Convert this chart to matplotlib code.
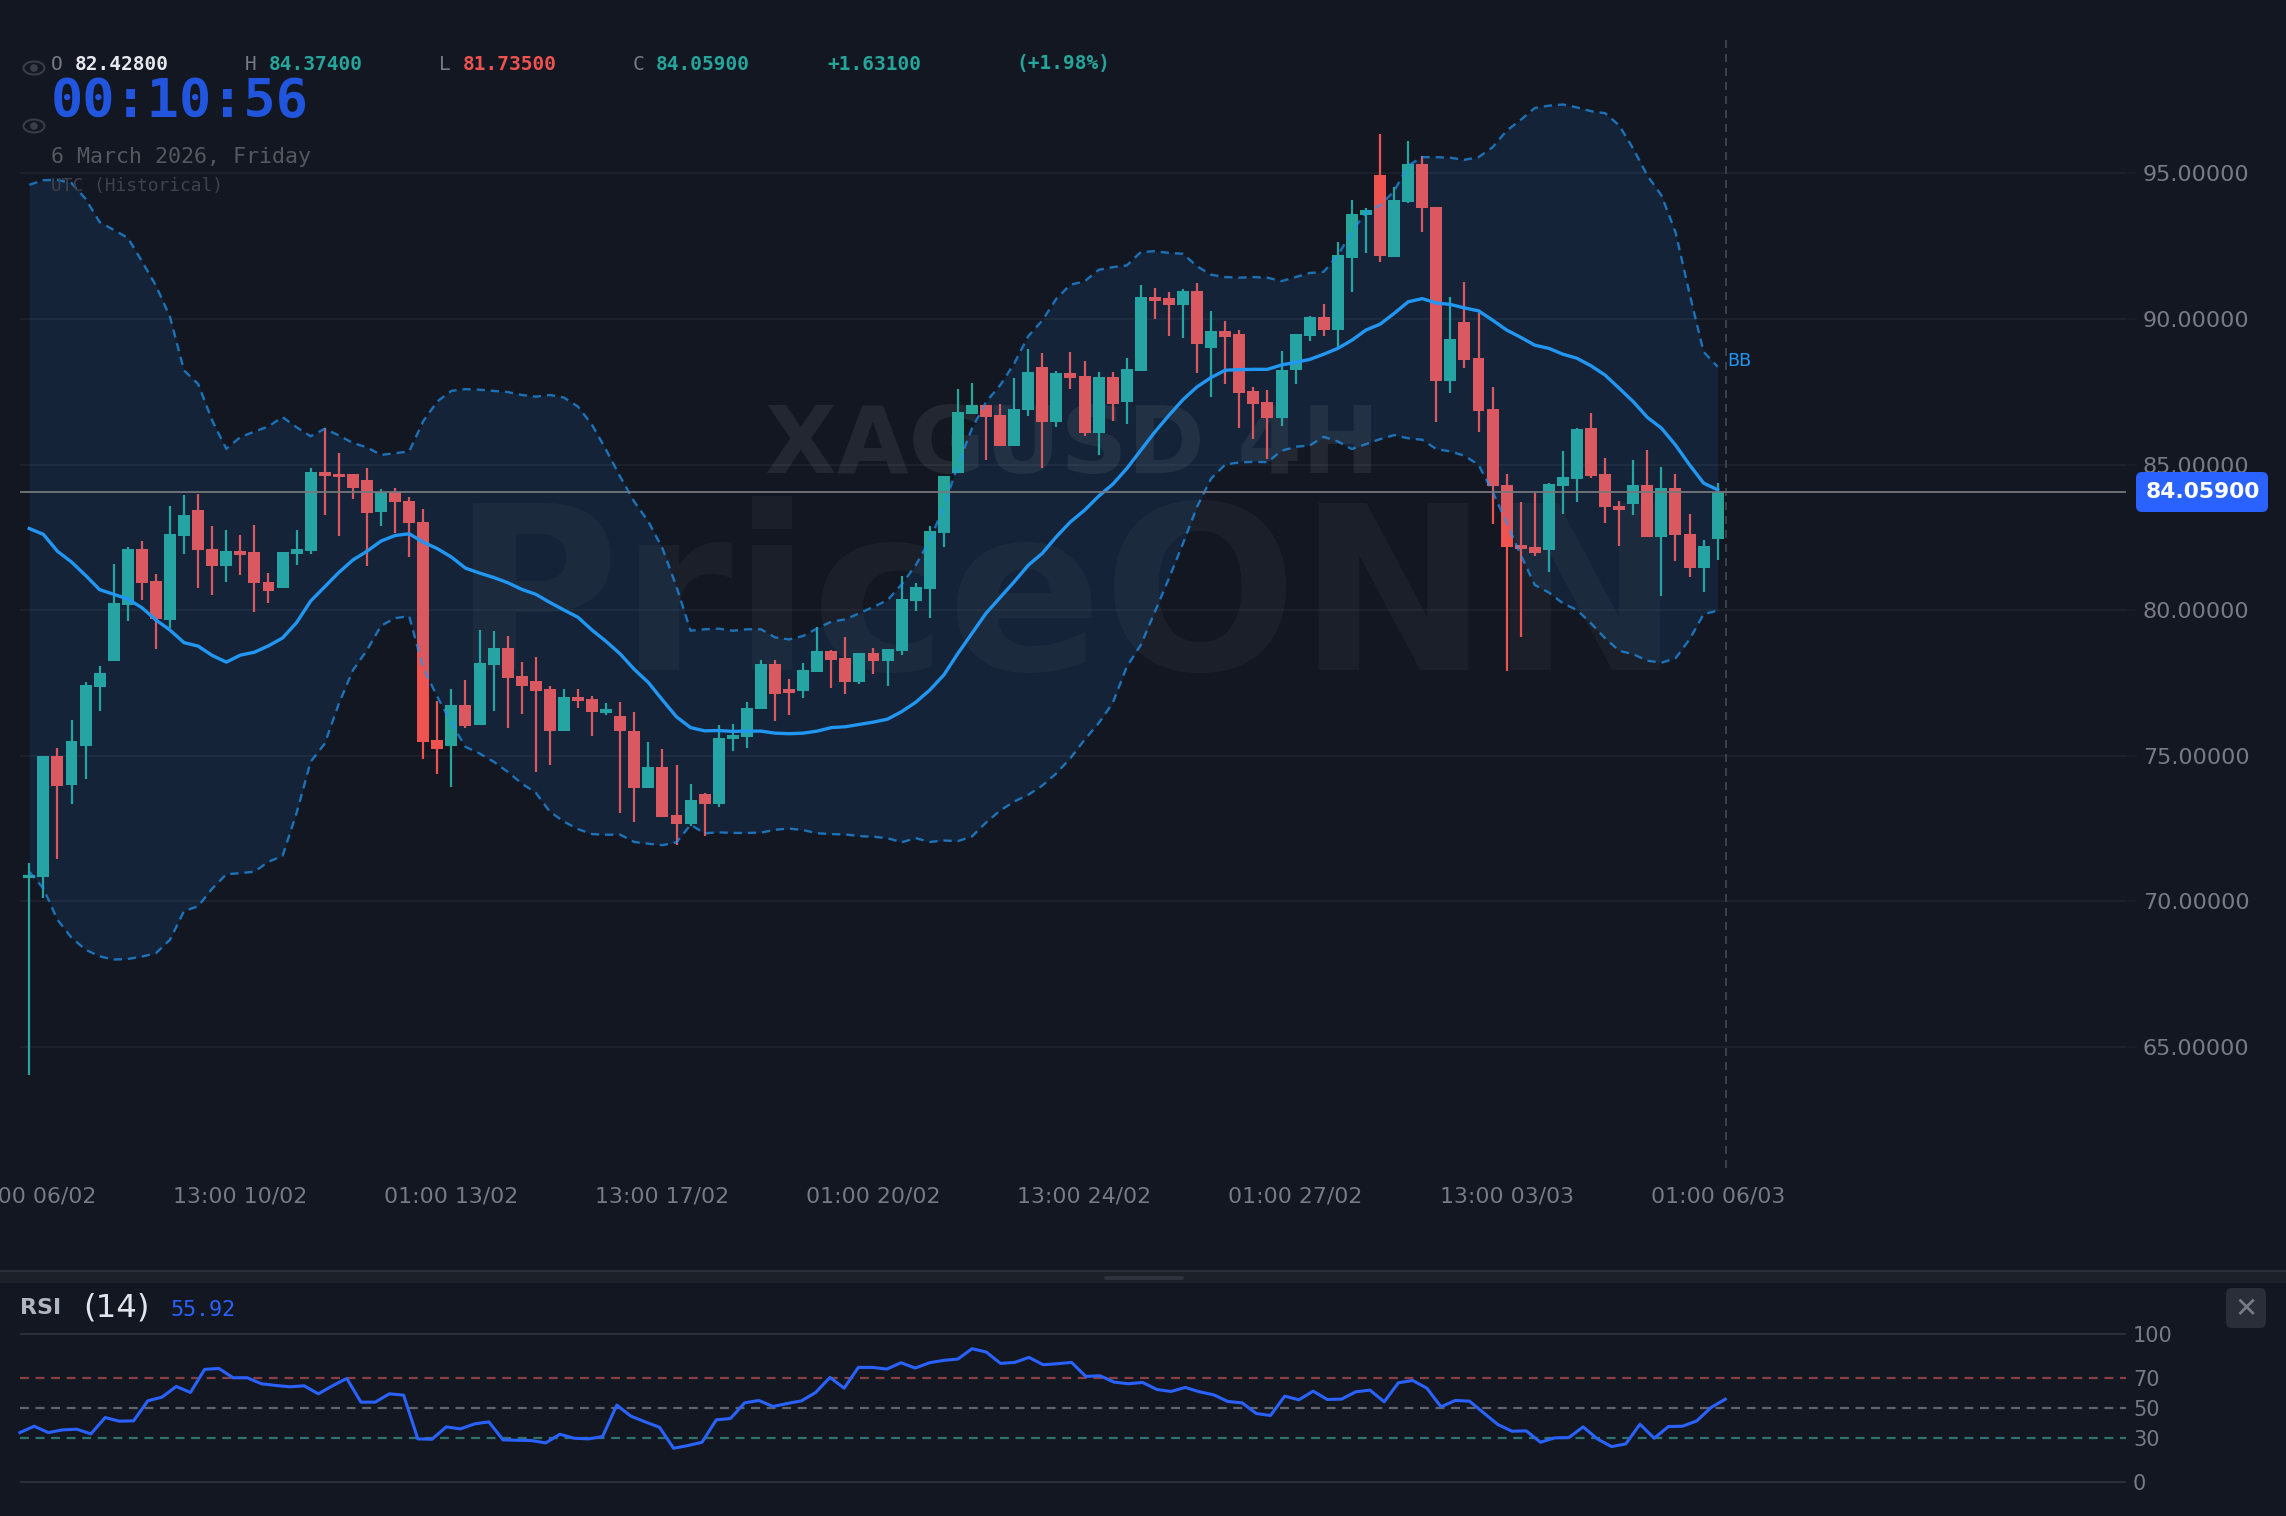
import matplotlib
matplotlib.use("Agg")
import numpy as np
import matplotlib.pyplot as plt
from matplotlib.patches import FancyBboxPatch, Ellipse, Circle, Rectangle

# 4H candles
opens = [70.78, 70.84, 74.98, 73.98, 75.34, 77.37, 78.25, 80.18, 82.10, 81.00,
         79.66, 82.53, 83.45, 82.10, 81.50, 82.02, 81.98, 80.95, 80.75, 81.93,
         82.04, 84.75, 84.69, 84.66, 84.46, 83.37, 84.04, 83.75, 83.02, 75.54,
         75.33, 76.72, 76.05, 78.10, 78.69, 77.72, 77.56, 77.29, 75.83, 77.00,
         76.95, 76.47, 76.36, 75.84, 73.88, 74.62, 72.97, 72.65, 73.67, 73.34,
         75.56, 75.64, 76.59, 78.14, 77.27, 77.22, 77.88, 78.60, 78.36, 77.51,
         78.54, 78.25, 78.60, 80.30, 80.72, 82.64, 84.70, 86.74, 87.03, 86.70,
         85.64, 86.86, 88.36, 86.45, 88.14, 88.05, 86.09, 87.99, 87.15, 88.22,
         90.76, 90.71, 90.47, 90.95, 89.02, 89.59, 89.50, 87.54, 87.14, 86.61,
         88.26, 89.42, 90.06, 89.62, 92.11, 93.56, 94.95, 92.13, 94.02, 95.33,
         93.86, 87.87, 89.89, 88.65, 86.91, 84.30, 82.22, 82.15, 82.05, 84.27,
         84.51, 86.25, 84.68, 83.59, 83.65, 84.30, 82.51, 84.18, 82.61, 81.45,
         82.428]
closes = [70.88, 74.98, 73.95, 75.51, 77.43, 77.83, 80.23, 82.11, 80.93, 79.68,
          82.60, 83.28, 82.07, 81.50, 82.02, 81.90, 80.92, 80.67, 81.99, 82.08,
          84.75, 84.62, 84.56, 84.20, 83.34, 84.04, 83.71, 82.99, 75.48, 75.22,
          76.72, 76.02, 78.19, 78.68, 77.65, 77.39, 77.21, 75.83, 77.00, 76.86,
          76.49, 76.61, 75.84, 73.87, 74.62, 72.90, 72.65, 73.47, 73.32, 75.61,
          75.69, 76.64, 78.14, 77.11, 77.15, 77.94, 78.60, 78.30, 77.51, 78.52,
          78.25, 78.66, 80.37, 80.80, 82.71, 84.59, 86.82, 87.03, 86.64, 85.64,
          86.91, 88.19, 86.45, 88.14, 87.97, 86.08, 87.99, 87.08, 88.27, 90.77,
          90.63, 90.49, 90.95, 89.14, 89.60, 89.37, 87.47, 87.09, 86.61, 88.25,
          89.47, 90.06, 89.61, 92.20, 93.62, 93.75, 92.17, 94.09, 95.33, 93.81,
          87.88, 89.31, 88.59, 86.85, 84.25, 82.18, 82.09, 81.97, 84.34, 84.57,
          86.22, 84.62, 83.54, 83.45, 84.30, 82.51, 84.18, 82.57, 81.46, 82.20,
          84.059]
highs = [71.32, 75.00, 75.27, 76.22, 77.52, 78.07, 81.58, 82.16, 82.37, 81.23,
         83.58, 83.94, 83.98, 82.88, 82.74, 82.57, 82.92, 81.26, 81.99, 82.76,
         84.87, 86.25, 85.41, 84.66, 84.89, 84.17, 84.18, 83.89, 83.48, 76.86,
         77.27, 77.61, 79.31, 79.28, 79.11, 78.21, 78.37, 77.40, 77.30, 77.30,
         77.03, 76.79, 76.85, 76.49, 75.45, 75.21, 74.67, 74.02, 73.72, 76.05,
         76.07, 76.85, 78.29, 78.29, 77.62, 78.18, 79.43, 78.63, 79.08, 78.52,
         78.70, 78.66, 81.17, 80.94, 82.87, 84.61, 87.59, 87.79, 87.05, 87.09,
         87.96, 88.97, 88.83, 88.22, 88.86, 88.55, 88.18, 88.17, 88.67, 91.18,
         91.06, 90.94, 91.04, 91.25, 90.29, 89.93, 89.63, 87.65, 87.57, 88.89,
         89.47, 90.09, 90.51, 92.65, 94.10, 93.82, 96.34, 94.55, 96.10, 95.61,
         93.86, 90.74, 91.26, 90.19, 87.65, 84.68, 83.71, 84.01, 84.36, 85.46,
         86.25, 86.76, 85.22, 83.73, 85.14, 85.50, 84.93, 84.66, 83.30, 82.42,
         84.374]
lows = [64.03, 70.09, 71.44, 73.32, 74.18, 76.52, 78.25, 79.62, 80.35, 78.65,
        79.39, 81.94, 80.77, 80.52, 80.95, 81.19, 79.92, 80.23, 80.75, 81.56,
        81.94, 83.28, 82.54, 83.81, 81.50, 82.89, 82.63, 81.81, 74.89, 74.36,
        73.92, 75.96, 76.05, 76.53, 75.93, 76.44, 74.43, 74.67, 75.83, 76.63,
        75.67, 76.39, 73.02, 72.73, 73.88, 72.90, 71.92, 72.58, 72.25, 73.24,
        75.17, 75.26, 76.59, 76.20, 76.40, 76.99, 77.88, 77.32, 77.12, 77.45,
        77.80, 77.40, 78.47, 79.95, 79.74, 82.16, 84.70, 86.74, 85.14, 85.64,
        85.64, 86.66, 84.87, 86.29, 87.59, 85.98, 85.33, 86.49, 86.40, 88.22,
        89.99, 89.40, 89.34, 88.15, 87.32, 87.78, 86.25, 85.87, 85.18, 86.34,
        87.76, 89.23, 89.40, 89.02, 90.91, 92.26, 91.97, 92.13, 93.98, 92.98,
        86.46, 87.46, 88.33, 86.10, 82.97, 77.90, 79.07, 81.85, 81.31, 83.30,
        83.71, 84.55, 83.00, 82.19, 83.27, 82.51, 80.47, 81.67, 81.13, 80.61,
        81.735]

# Bollinger bands
bb_mid = [82.80, 82.60, 82.02, 81.65, 81.19, 80.70, 80.54, 80.38, 80.08, 79.66,
          79.31, 78.88, 78.76, 78.44, 78.21, 78.45, 78.55, 78.77, 79.04, 79.57,
          80.31, 80.80, 81.29, 81.72, 82.02, 82.37, 82.56, 82.62, 82.33, 82.11,
          81.82, 81.44, 81.27, 81.12, 80.94, 80.71, 80.54, 80.26, 80.00, 79.75,
          79.31, 78.92, 78.49, 77.96, 77.51, 76.91, 76.33, 75.96, 75.85, 75.86,
          75.83, 75.84, 75.84, 75.77, 75.75, 75.77, 75.84, 75.96, 75.99, 76.07,
          76.15, 76.25, 76.51, 76.83, 77.25, 77.77, 78.51, 79.20, 79.89, 80.43,
          80.97, 81.54, 81.95, 82.52, 83.03, 83.43, 83.91, 84.32, 84.86, 85.49,
          86.12, 86.69, 87.23, 87.67, 87.99, 88.24, 88.26, 88.27, 88.27, 88.42,
          88.51, 88.61, 88.79, 88.99, 89.27, 89.62, 89.82, 90.19, 90.59, 90.70,
          90.55, 90.50, 90.38, 90.28, 89.96, 89.62, 89.37, 89.10, 88.99, 88.79,
          88.65, 88.39, 88.07, 87.62, 87.16, 86.62, 86.25, 85.67, 84.99, 84.36,
          84.13]
bb_upper = [94.61, 94.77, 94.78, 94.67, 94.13, 93.33, 93.06, 92.79, 91.99, 91.15,
            90.07, 88.23, 87.77, 86.51, 85.54, 85.94, 86.13, 86.31, 86.63, 86.28,
            85.97, 86.23, 86.00, 85.74, 85.59, 85.33, 85.39, 85.45, 86.49, 87.17,
            87.53, 87.59, 87.57, 87.53, 87.49, 87.39, 87.33, 87.39, 87.30, 86.99,
            86.36, 85.50, 84.58, 83.72, 83.04, 82.12, 80.80, 79.29, 79.34, 79.36,
            79.29, 79.34, 79.34, 79.06, 78.99, 79.11, 79.37, 79.60, 79.68, 79.89,
            80.11, 80.34, 80.88, 81.54, 82.40, 83.55, 84.98, 86.24, 87.15, 87.72,
            88.47, 89.41, 89.95, 90.70, 91.18, 91.29, 91.69, 91.78, 91.84, 92.30,
            92.33, 92.27, 92.24, 91.81, 91.52, 91.44, 91.42, 91.44, 91.42, 91.30,
            91.44, 91.58, 91.62, 92.19, 92.99, 93.67, 93.90, 94.39, 95.27, 95.56,
            95.56, 95.54, 95.47, 95.56, 95.90, 96.47, 96.84, 97.25, 97.33, 97.37,
            97.27, 97.14, 97.07, 96.65, 95.85, 94.93, 94.25, 92.99, 90.87, 88.87,
            88.36]
bb_lower = [71.01, 70.43, 69.36, 68.74, 68.33, 68.10, 67.99, 68.01, 68.09, 68.21,
            68.67, 69.66, 69.82, 70.43, 70.92, 70.96, 71.01, 71.35, 71.55, 73.03,
            74.79, 75.41, 76.78, 77.93, 78.62, 79.46, 79.72, 79.79, 78.00, 77.02,
            76.11, 75.30, 75.07, 74.79, 74.44, 74.04, 73.72, 73.07, 72.73, 72.47,
            72.30, 72.28, 72.28, 72.03, 71.97, 71.92, 72.02, 72.62, 72.33, 72.36,
            72.34, 72.34, 72.35, 72.45, 72.49, 72.44, 72.33, 72.30, 72.29, 72.23,
            72.21, 72.16, 72.02, 72.16, 72.03, 72.08, 72.06, 72.22, 72.70, 73.11,
            73.42, 73.65, 73.97, 74.39, 74.91, 75.54, 76.11, 76.80, 78.05, 78.80,
            79.94, 81.09, 82.29, 83.55, 84.52, 85.00, 85.07, 85.09, 85.08, 85.47,
            85.61, 85.65, 85.95, 85.79, 85.53, 85.70, 85.87, 86.01, 85.90, 85.85,
            85.53, 85.45, 85.30, 84.99, 84.07, 82.99, 81.90, 80.86, 80.60, 80.23,
            80.00, 79.54, 79.03, 78.60, 78.48, 78.26, 78.19, 78.34, 78.99, 79.86,
            79.98]

# RSI(14)
rsi = [33.41, 37.70, 33.41, 35.21, 35.67, 32.51, 43.57, 41.08, 41.31, 54.85,
       57.34, 64.56, 60.50, 76.07, 76.75, 70.43, 70.43, 66.37, 65.24, 64.33,
       65.01, 59.59, 65.01, 69.98, 53.95, 53.95, 59.59, 58.69, 29.12, 28.89,
       37.25, 35.89, 39.28, 40.63, 28.44, 28.22, 27.99, 26.41, 32.28, 29.57,
       29.12, 30.70, 51.92, 44.47, 40.63, 37.02, 22.80, 24.60, 26.86, 41.99,
       42.89, 53.50, 55.08, 51.02, 53.05, 54.85, 60.50, 70.65, 63.43, 77.43,
       77.43, 76.30, 80.59, 76.98, 80.59, 82.17, 83.07, 90.07, 87.81, 80.14,
       80.81, 84.20, 79.23, 79.91, 80.81, 71.33, 71.78, 67.49, 66.37, 67.27,
       62.53, 61.17, 63.88, 60.95, 58.92, 54.40, 53.50, 46.28, 44.92, 58.01,
       55.53, 61.40, 55.76, 55.98, 60.95, 62.08, 54.18, 67.04, 68.62, 63.43,
       50.79, 55.08, 54.63, 46.73, 38.83, 34.31, 34.54, 26.86, 29.80, 30.02,
       37.25, 29.12, 23.93, 25.73, 39.05, 29.57, 37.47, 37.70, 41.31, 50.34,
       55.92]

price_ticks = [65, 70, 75, 80, 85, 90, 95]
rsi_ticks = [0, 30, 50, 70, 100]
time_pos = [0, 15, 30, 45, 60, 75, 90, 105, 120]
time_labels = ["01:00 06/02", "13:00 10/02", "01:00 13/02", "13:00 17/02", "01:00 20/02",
               "13:00 24/02", "01:00 27/02", "13:00 03/03", "01:00 06/03"]
last_price = 84.059

BG = "#131722"
GRID = "#1e222c"
MUTED = "#787b86"
UP = "#26a69a"
DOWN = "#ef5350"
BB = "#2196f3"
MONO = "DejaVu Sans Mono"

W, H = 2286, 1516
fig = plt.figure(figsize=(W / 100, H / 100), dpi=100, facecolor=BG)

# Price pane
ax = fig.add_axes([0, (H - 1170) / H, 2126 / W, 1170 / H], facecolor=BG)
ax.set_xlim(-2.082, 149.02)
ax.set_ylim(60.76, 100.96)
for s in ax.spines.values():
    s.set_visible(False)

# Overlay axes in pixel units for the header, badge and panel furniture
ui = fig.add_axes([0, 0, 1, 1], zorder=5)
ui.set_xlim(0, W)
ui.set_ylim(H, 0)
ui.axis("off")

idx = np.arange(len(closes))
o, c = np.array(opens), np.array(closes)
colors = [UP if up else DOWN for up in c >= o]

ax.hlines(price_ticks, -0.66, 149.02, color=GRID, lw=1.4, zorder=0.5)

ax.text(452, 670, "PriceONN", transform=ui.transData, fontsize=165, fontweight="bold",
        color="white", alpha=0.035, va="baseline", zorder=1, clip_on=False)
ax.text(765, 473, "XAGUSD 4H", transform=ui.transData, fontsize=67, fontweight="bold",
        color="white", alpha=0.07, va="baseline", zorder=1, clip_on=False)

ax.vlines(idx, lows, highs, color=colors, lw=1.6, zorder=2)
ax.bar(idx, c - o, bottom=o, width=0.85, color=colors, linewidth=0, zorder=2.1)

# The band tint sits over the candles
ax.fill_between(idx, bb_lower, bb_upper, color=BB, alpha=0.1, linewidth=0, zorder=3)
ax.plot(idx, bb_upper, color=BB, alpha=0.7, lw=1.7, ls=(0, (3.5, 2.5)), zorder=4)
ax.plot(idx, bb_lower, color=BB, alpha=0.7, lw=1.7, ls=(0, (3.5, 2.5)), zorder=4)
ax.plot(idx, bb_mid, color=BB, lw=2.4, zorder=4.1)

ax.hlines(last_price, -0.66, 149.02, color="#76777c", lw=1.3, zorder=4.5)
ax.vlines(120.6, 100.96 - 40 / 29.1, 100.96 - 1168 / 29.1, color="#3c3f48", lw=1.44,
          ls=(0, (4, 3)), zorder=4.4)

ax.set_yticks(price_ticks, [f"{p:.5f}" for p in price_ticks])
ax.set_xticks(time_pos, time_labels)
ax.yaxis.tick_right()
ax.tick_params(axis="y", length=8, width=1.4, color="#191d27", pad=4, labelsize=16, labelcolor=MUTED)
ax.tick_params(axis="x", length=0, pad=12, labelsize=15.8, labelcolor=MUTED)

# RSI pane
rax = fig.add_axes([0, (H - 1500) / H, 2126 / W, 180 / H], facecolor=BG)
rax.set_xlim(-1.4, 148.2)
rax.set_ylim(-12.16, 109.46)
for s in rax.spines.values():
    s.set_visible(False)
rax.hlines([0, 100], 0, 148.2, color="#2a2e39", lw=1.5, zorder=1)
rax.hlines(70, 0, 148.2, color="#8a3f45", lw=1.6, ls=(0, (4, 3)), zorder=1)
rax.hlines(50, 0, 148.2, color="#62646c", lw=1.6, ls=(0, (4, 3)), zorder=1)
rax.hlines(30, 0, 148.2, color="#2f7370", lw=1.6, ls=(0, (4, 3)), zorder=1)
rax.plot(np.arange(len(rsi)), rsi, color="#2962ff", lw=2.2, zorder=2)
rax.set_xticks([])
rax.set_yticks(rsi_ticks, [str(v) for v in rsi_ticks])
rax.yaxis.tick_right()
rax.tick_params(axis="y", length=0, pad=5, labelsize=15, labelcolor=MUTED)

# Legend line above the price pane
header = [(51, "O", MUTED), (75, "82.42800", "#e6e8ee"),
          (245, "H", MUTED), (269, "84.37400", UP),
          (439, "L", MUTED), (463, "81.73500", DOWN),
          (633, "C", MUTED), (656, "84.05900", UP),
          (827, "+1.63100", UP), (1016, "(+1.98%)", UP)]
for x, txt, col in header:
    bold = col != MUTED
    ui.text(x, 64, txt, family=MONO, fontsize=14, color=col, va="center",
            fontweight="bold" if bold else "normal")

ui.text(51, 102, "00:10:56", family=MONO, fontsize=38.5, fontweight="bold", color="#2255dd", va="center")
ui.text(51, 157, "6 March 2026, Friday", family=MONO, fontsize=15.6, color="#55585f", va="center")
ui.text(51, 186, "UTC (Historical)", family=MONO, fontsize=12.9, color="#3f424b", va="center")

# Eye toggles
for ey in (68, 126):
    ui.add_patch(Ellipse((34, ey), 21, 13, fill=False, ec="#3a3e48", lw=1.4))
    ui.add_patch(Circle((34, ey), 3.8, fc="#3a3e48", ec="none"))

ui.text(1727, 361, "BB", color=BB, fontsize=12.6, va="center")

# Last price badge
ui.add_patch(FancyBboxPatch((2136, 472), 132, 40, boxstyle="round,pad=0,rounding_size=6",
                            fc="#2962ff", ec="none"))
ui.text(2203, 492, "84.05900", color="white", fontsize=15.7, fontweight="bold",
        ha="center", va="center")

# Divider between the panes
ui.add_patch(Rectangle((0, 1270), W, 2, fc="#2a2e37", ec="none"))
ui.add_patch(Rectangle((0, 1272), W, 11, fc="#1c2029", ec="none"))
ui.add_patch(FancyBboxPatch((1104, 1276), 80, 4, boxstyle="round,pad=0,rounding_size=2",
                            fc="#2e323c", ec="none"))

# RSI legend and close button
ui.text(20, 1308, "RSI", color="#b2b5be", fontsize=16, fontweight="bold", va="center")
ui.text(83, 1308, "(14)", color="#e0e3eb", fontsize=23.3, va="center")
ui.text(170, 1310, "55.92", family=MONO, color="#2962ff", fontsize=15.6, va="center")
ui.add_patch(FancyBboxPatch((2226, 1288), 40, 40, boxstyle="round,pad=0,rounding_size=6",
                            fc="#2a2e39", ec="none"))
ui.text(2246, 1309, "\u2715", color=MUTED, fontsize=20, ha="center", va="center")

fig.savefig("out.png", dpi=100, facecolor=BG)
